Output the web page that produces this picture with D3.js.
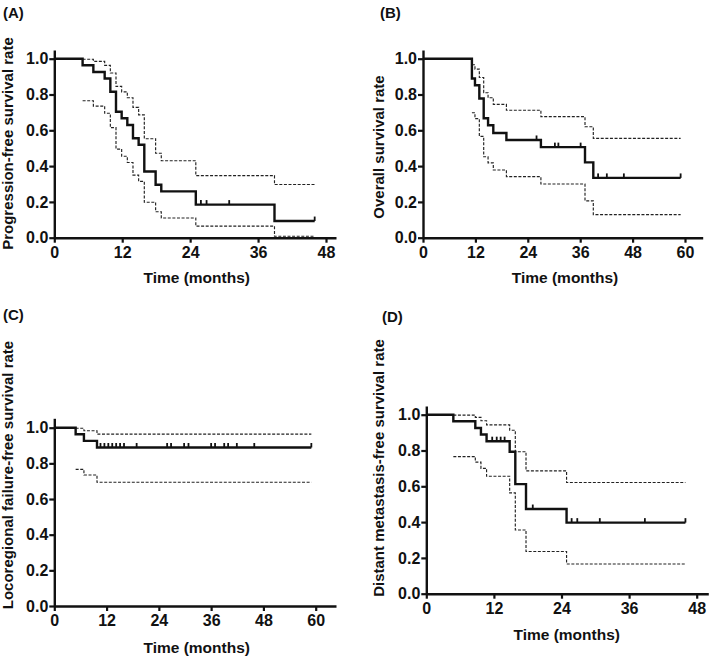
<!DOCTYPE html>
<html><head><meta charset="utf-8">
<script src="https://cdn.jsdelivr.net/npm/d3@7"></script>
<style>
body{margin:0;background:#fff}
svg{display:block}
text{font-family:"Liberation Sans",Arial,Helvetica,sans-serif;font-weight:bold;fill:#111}
</style>
</head><body>
<svg id="chart" width="709" height="657"></svg>
<script>
// ---------- data ----------
const yTickValues = [0, 0.2, 0.4, 0.6, 0.8, 1.0];
const xTicks48 = [0, 12, 24, 36, 48];
const xTicks60 = [0, 12, 24, 36, 48, 60];

// (A) Progression-free survival
const pfsTimes  = [5, 6.9, 8.9, 9.9, 10.9, 11.9, 12.9, 13.9, 14.9, 15.9, 17.9, 18.9, 25, 38.9];
const pfsSurv   = [0.963, 0.926, 0.889, 0.815, 0.704, 0.667, 0.630, 0.556, 0.519, 0.370, 0.296, 0.259, 0.185, 0.093];
const pfsUpper  = [0.997, 0.985, 0.963, 0.920, 0.845, 0.815, 0.782, 0.728, 0.686, 0.553, 0.472, 0.430, 0.347, 0.297];
const pfsLower  = [0.765, 0.735, 0.695, 0.615, 0.495, 0.455, 0.420, 0.350, 0.315, 0.198, 0.145, 0.110, 0.065, 0.008];
const pfsCensor = [25.9, 26.9, 30.9, 46];
const pfsEnd = 46;

// (B) Overall survival
const osTimes  = [11.2, 11.9, 12.9, 13.9, 14.9, 16.1, 19.1, 27.0, 37.1, 39.0];
const osSurv   = [0.889, 0.852, 0.778, 0.667, 0.628, 0.585, 0.546, 0.506, 0.421, 0.334];
const osUpper  = [0.966, 0.942, 0.895, 0.810, 0.782, 0.745, 0.712, 0.676, 0.620, 0.555];
const osLower  = [0.698, 0.665, 0.566, 0.452, 0.418, 0.378, 0.341, 0.300, 0.206, 0.129];
const osCensor = [26.0, 30.2, 31.0, 36.1, 40.1, 42.1, 46.0, 59];
const osEnd = 59;

// (C) Locoregional failure-free survival
const lrTimes  = [4.9, 6.8, 9.8];
const lrSurv   = [0.963, 0.926, 0.889];
const lrUpper  = [0.997, 0.983, 0.964];
const lrLower  = [0.766, 0.735, 0.694];
const lrCensor = [10.6, 11.5, 12.4, 13.3, 14.2, 15.1, 16.0, 18.9, 25.9, 26.8, 29.8, 30.8, 36.0, 36.9, 39.0, 39.9, 41.9, 45.9, 59];
const lrEnd = 59;

// (D) Distant metastasis-free survival
const dmTimes  = [4.8, 8.7, 9.7, 10.7, 14.8, 15.8, 17.7, 24.9];
const dmSurv   = [0.963, 0.926, 0.889, 0.852, 0.793, 0.612, 0.473, 0.397];
const dmUpper  = [0.998, 0.985, 0.966, 0.943, 0.913, 0.793, 0.686, 0.621];
const dmLower  = [0.766, 0.735, 0.700, 0.656, 0.563, 0.356, 0.236, 0.166];
const dmCensor = [11.7, 12.5, 13.2, 13.9, 18.9, 25.8, 26.8, 30.8, 38.8, 46];
const dmEnd = 46;

// ---------- drawing ----------
const svg = d3.select("#chart");

const panels = [
  {label:"(A)", lx:3, ly:18, yTitle:"Progression-free survival rate", ytx:13, yty:143.5,
   xTitleX:196.7, xTitleY:283, x0:54.3, xt:326, xEnd:336, xTicks:xTicks48,
   y0:237.7, y1:58.7, yTop:50,
   times:pfsTimes, surv:pfsSurv, upper:pfsUpper, lower:pfsLower, censor:pfsCensor, end:pfsEnd},
  {label:"(B)", lx:380, ly:18, yTitle:"Overall survival rate", ytx:384, yty:147,
   xTitleX:565, xTitleY:283, x0:423, xt:685, xEnd:702.7, xTicks:xTicks60,
   y0:237.7, y1:58.7, yTop:50,
   times:osTimes, surv:osSurv, upper:osUpper, lower:osLower, censor:osCensor, end:osEnd},
  {label:"(C)", lx:3, ly:320, yTitle:"Locoregional failure-free survival rate", ytx:13, yty:475,
   xTitleX:196.7, xTitleY:653, x0:54.3, xt:315.7, xEnd:336, xTicks:xTicks60,
   y0:606, y1:427.7, yTop:418.3,
   times:lrTimes, surv:lrSurv, upper:lrUpper, lower:lrLower, censor:lrCensor, end:lrEnd},
  {label:"(D)", lx:382, ly:322, yTitle:"Distant metastasis-free survival rate", ytx:384, yty:468,
   xTitleX:566.7, xTitleY:640, x0:426.3, xt:696.7, xEnd:708.3, xTicks:xTicks48,
   y0:593.7, y1:414.7, yTop:406,
   times:dmTimes, surv:dmSurv, upper:dmUpper, lower:dmLower, censor:dmCensor, end:dmEnd}
];

function stepAt(times, vals, t, start) {
  let v = start;
  for (let i = 0; i < times.length; i++) if (times[i] <= t) v = vals[i];
  return v;
}

panels.forEach(p => {
  const maxTick = p.xTicks[p.xTicks.length - 1];
  const xMax = maxTick * (p.xEnd - p.x0) / (p.xt - p.x0);
  const x = d3.scaleLinear().domain([0, xMax]).range([p.x0, p.xEnd]);
  const yMax = 1 + (p.y1 - p.yTop) / (p.y0 - p.y1);
  const y = d3.scaleLinear().domain([0, yMax]).range([p.y0, p.yTop]);

  const g = svg.append("g");

  // axes
  const xAxis = d3.axisBottom(x).tickValues(p.xTicks).tickFormat(d3.format("d"))
      .tickSizeInner(5).tickSizeOuter(0).tickPadding(4);
  const gx = g.append("g").attr("transform", `translate(0,${p.y0})`).call(xAxis);
  const yAxis = d3.axisLeft(y).tickValues(yTickValues).tickFormat(d3.format(".1f"))
      .tickSizeInner(5).tickSizeOuter(0).tickPadding(1);
  const gy = g.append("g").attr("transform", `translate(${p.x0},0)`).call(yAxis);
  [gx, gy].forEach(a => {
    a.select(".domain").attr("stroke", "#111").attr("stroke-width", 2.4);
    a.selectAll(".tick line").attr("stroke", "#111").attr("stroke-width", 2.2);
    a.selectAll(".tick text").style("font-size", "16px").attr("fill", "#111");
  });

  // line generator
  const line = d3.line().x(d => x(d[0])).y(d => y(d[1])).curve(d3.curveStepAfter);

  // CI bands
  const ciPts = arr => {
    const pts = p.times.map((t, i) => [t, arr[i]]);
    pts.push([p.end, arr[arr.length - 1]]);
    return pts;
  };
  [p.upper, p.lower].forEach(arr => {
    g.append("path").datum(ciPts(arr)).attr("d", line)
      .attr("fill", "none").attr("stroke", "#222").attr("stroke-width", 1.15)
      .attr("stroke-dasharray", "3,1.6");
  });

  // main KM curve
  const mainPts = [[0, 1]].concat(p.times.map((t, i) => [t, p.surv[i]]));
  mainPts.push([p.end, p.surv[p.surv.length - 1]]);
  g.append("path").datum(mainPts).attr("d", line)
    .attr("fill", "none").attr("stroke", "#111").attr("stroke-width", 2.4)
    .attr("stroke-linejoin", "miter");

  // censor marks
  g.selectAll(".cens").data(p.censor).enter().append("line")
    .attr("x1", d => x(d)).attr("x2", d => x(d))
    .attr("y1", d => y(stepAt(p.times, p.surv, d, 1)))
    .attr("y2", d => y(stepAt(p.times, p.surv, d, 1)) - 4.5)
    .attr("stroke", "#111").attr("stroke-width", 1.8);

  // titles
  svg.append("text").attr("x", p.lx).attr("y", p.ly).style("font-size", "15px").text(p.label);
  svg.append("text").attr("x", p.xTitleX).attr("y", p.xTitleY).attr("text-anchor", "middle")
    .style("font-size", "15.5px").text("Time (months)");
  svg.append("text").attr("transform", `translate(${p.ytx},${p.yty}) rotate(-90)`)
    .attr("text-anchor", "middle").style("font-size", "15px").text(p.yTitle);
});
</script>
</body></html>
